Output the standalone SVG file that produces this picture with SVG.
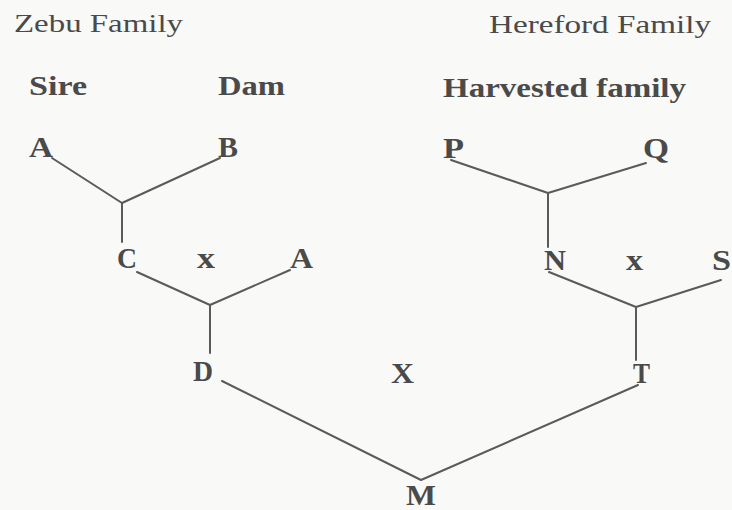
<svg xmlns="http://www.w3.org/2000/svg" width="732" height="510" viewBox="0 0 732 510">
<style>
.bg{fill:#f9f9f8}
text{font-family:'Liberation Serif',Tinos,'Times New Roman',serif;fill:#4a4a4a}
.h{font-size:26px}
.b{font-size:27px;font-weight:bold}
.n{font-size:30px;font-weight:bold}
.e{fill:none;stroke:#5a5a5a;stroke-width:2;stroke-linecap:round;stroke-linejoin:round}
</style>
<rect class="bg" width="732" height="510"/>
<g id="titles">
<text class="h" x="14" y="32" textLength="169" lengthAdjust="spacingAndGlyphs">Zebu Family</text>
<text class="h" x="489" y="33" textLength="222" lengthAdjust="spacingAndGlyphs">Hereford Family</text>
<text class="b" x="29" y="95" textLength="58" lengthAdjust="spacingAndGlyphs">Sire</text>
<text class="b" x="218" y="95" textLength="67" lengthAdjust="spacingAndGlyphs">Dam</text>
<text class="b" x="443" y="97" textLength="243" lengthAdjust="spacingAndGlyphs">Harvested family</text>
</g>
<g id="connectors">
<polyline class="e" points="52,158 122,203 220,158"/>
<line class="e" x1="122" y1="203" x2="122" y2="242"/>
<polyline class="e" points="137,272 210,305 290,270"/>
<line class="e" x1="210" y1="305" x2="210" y2="353"/>
<polyline class="e" points="222,381 421,480 638,385"/>
<polyline class="e" points="451,160 548,193 646,163"/>
<line class="e" x1="548" y1="193" x2="548" y2="247"/>
<polyline class="e" points="549,272 636,307 721,280"/>
<line class="e" x1="636" y1="307" x2="636" y2="360"/>
</g>
<g id="node-A1"><text class="n" x="29" y="157" textLength="24" lengthAdjust="spacingAndGlyphs">A</text></g>
<g id="node-B"><text class="n" x="218" y="157" textLength="20" lengthAdjust="spacingAndGlyphs">B</text></g>
<g id="node-C"><text class="n" x="117" y="268" textLength="20" lengthAdjust="spacingAndGlyphs">C</text></g>
<g id="cross-1"><text class="n" x="197" y="268" textLength="18" lengthAdjust="spacingAndGlyphs">x</text></g>
<g id="node-A2"><text class="n" x="290" y="268" textLength="23" lengthAdjust="spacingAndGlyphs">A</text></g>
<g id="node-D"><text class="n" x="193" y="381" textLength="20" lengthAdjust="spacingAndGlyphs">D</text></g>
<g id="cross-main"><text class="n" x="391" y="383" textLength="23" lengthAdjust="spacingAndGlyphs">X</text></g>
<g id="node-M"><text class="n" x="406" y="505" textLength="30" lengthAdjust="spacingAndGlyphs">M</text></g>
<g id="node-P"><text class="n" x="443" y="158" textLength="21" lengthAdjust="spacingAndGlyphs">P</text></g>
<g id="node-Q"><text class="n" x="643" y="158" textLength="26" lengthAdjust="spacingAndGlyphs">Q</text></g>
<g id="node-N"><text class="n" x="544" y="270" textLength="22" lengthAdjust="spacingAndGlyphs">N</text></g>
<g id="cross-2"><text class="n" x="626" y="270" textLength="17" lengthAdjust="spacingAndGlyphs">x</text></g>
<g id="node-S"><text class="n" x="712" y="270" textLength="19" lengthAdjust="spacingAndGlyphs">S</text></g>
<g id="node-T"><text class="n" x="633" y="383" textLength="17" lengthAdjust="spacingAndGlyphs">T</text></g>
</svg>
